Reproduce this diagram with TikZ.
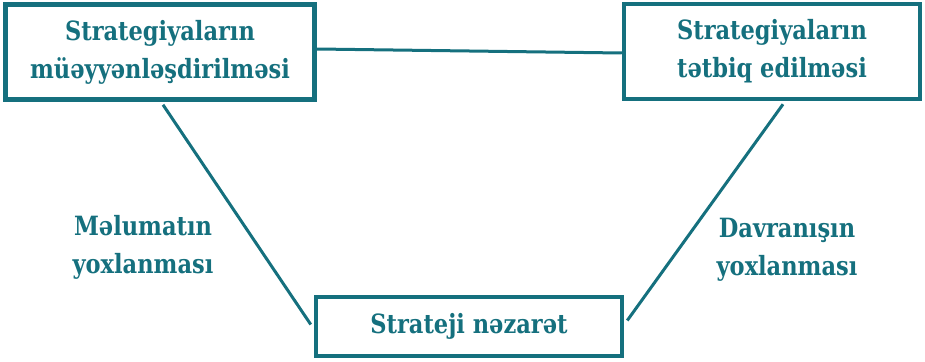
\documentclass[tikz,border=0pt]{standalone}
\usepackage{fontspec}
\setmainfont{DejaVu Serif}[FakeStretch=0.85]
\usepackage{xcolor}
\usetikzlibrary{calc}
\definecolor{stratcol}{HTML}{15707E}
\tikzset{stage box/.style={draw=stratcol,line width=4.5pt,fill=white,align=center,inner sep=0pt},
	stage text/.style={font=\bfseries\fontsize{26.5}{38}\selectfont,text=stratcol},
	link/.style={draw=stratcol,line width=3pt}}

\begin{document}
\begin{tikzpicture}[x=1pt,y=-1pt,stage text]
	\useasboundingbox (0,0) rectangle (925,361);
	\node[stage box,minimum width=309pt,minimum height=95pt] (define) at (160,52)
		{Strategiyaların\\müəyyənləşdirilməsi};
	\node[stage box,minimum width=296pt,minimum height=95pt] (apply) at (772,51.5)
		{Strategiyaların\\tətbiq edilməsi};
	\node[stage box,minimum width=306pt,minimum height=59pt] (control) at (469,326.5)
		{Strateji nəzarət};

	\draw[link] ([yshift=3pt]define.east) -- ([yshift=-1.5pt]apply.west);
	\draw[link] ([xshift=3pt,yshift=-3pt]define.south) -- ([xshift=-3pt,yshift=2pt]control.west);
	\draw[link] ([xshift=11pt,yshift=-3pt]apply.south) -- ([xshift=3pt,yshift=6pt]control.east);

	\node[align=center] (info) at (143,247) {Məlumatın\\yoxlanması};
	\node[align=center] (behav) at (787,250) {Davranışın\\yoxlanması};
\end{tikzpicture}
\end{document}
